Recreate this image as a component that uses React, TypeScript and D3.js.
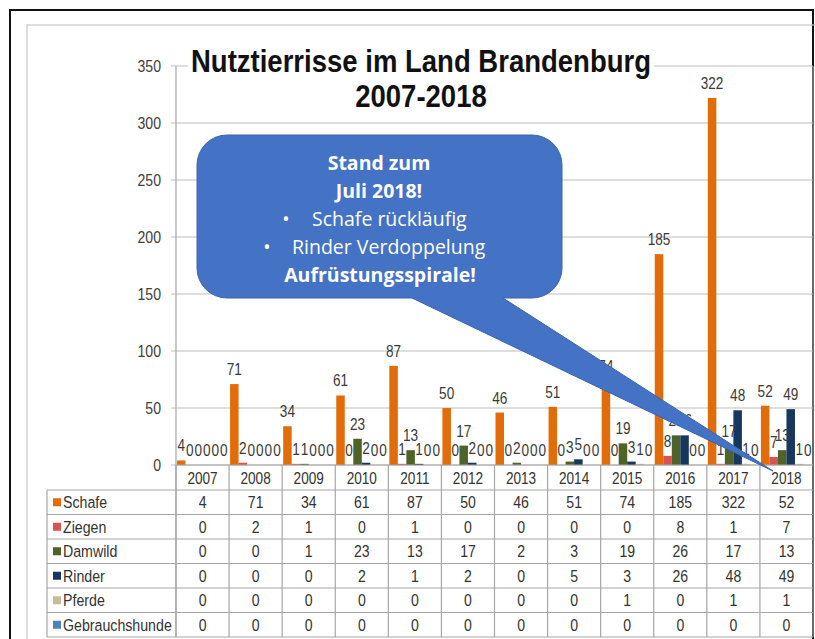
import React from "react";
import * as d3 from "d3";

const years = ["2007","2008","2009","2010","2011","2012","2013","2014","2015","2016","2017","2018"];
const seriesNames = ["Schafe","Ziegen","Damwild","Rinder","Pferde","Gebrauchshunde"];
const schafe = [4,71,34,61,87,50,46,51,74,185,322,52];
const ziegen = [0,2,1,0,1,0,0,0,0,8,1,7];
const damwild = [0,0,1,23,13,17,2,3,19,26,17,13];
const rinder = [0,0,0,2,1,2,0,5,3,26,48,49];
const pferde = [0,0,0,0,0,0,0,0,1,0,1,1];
const gebrauchshunde = [0,0,0,0,0,0,0,0,0,0,0,0];
const seriesValues = [schafe, ziegen, damwild, rinder, pferde, gebrauchshunde];
const seriesColors = ["#E36C0A","#D9534F","#4F6228","#17375E","#C4BD97","#4F81BD"];
const yTicks = [0,50,100,150,200,250,300,350];
const titleLines = ["Nutztierrisse im Land Brandenburg","2007-2018"];

const FONT = "'Liberation Sans', Arial, sans-serif";
const CFONT = "'Open Sans', 'Noto Sans', sans-serif";

function T({ x, y, sx = 0.85, children, ...rest }: any) {
  return (
    <text transform={`translate(${x},${y}) scale(${sx},1)`} fontFamily={FONT} {...rest}>
      {children}
    </text>
  );
}

export default function App() {
  const W = 815, H = 639;
  const left = 176, right = 813, top = 66, base = 465;
  const x0 = d3.scaleBand<string>().domain(years).range([left, right]).paddingInner(0).paddingOuter(0);
  const bw = x0.bandwidth();
  const x1 = d3.scaleBand<string>().domain(seriesNames).range([1, bw - 1]).paddingInner(0).paddingOuter(0);
  const y = d3.scaleLinear().domain([0, 350]).range([base, top]);

  const rowTop = 490, rowH = 24.5;
  const tableLeft = 47;

  const cx0 = 197, cx1 = 562, cy0 = 135, cy1 = 298, r = 30;
  const tailL = 412, tailR = 503, tipX = 773, tipY = 471;
  const calloutPath = `M${cx0 + r},${cy0} H${cx1 - r} A${r},${r} 0 0 1 ${cx1},${cy0 + r} V${cy1 - r} A${r},${r} 0 0 1 ${cx1 - r},${cy1} H${tailR} L${tipX},${tipY} L${tailL},${cy1} H${cx0 + r} A${r},${r} 0 0 1 ${cx0},${cy1 - r} V${cy0 + r} A${r},${r} 0 0 1 ${cx0 + r},${cy0} Z`;

  return (
    <svg width={W} height={H} style={{ position: "absolute", left: 0, top: 0, background: "#fff" }}>
      <rect x={10} y={10} width={803} height={H + 10} fill="none" stroke="#111" strokeWidth={2} />
      <rect x={27} y={25} width={W} height={H} fill="none" stroke="#c8c8c8" strokeWidth={1.2} />

      {yTicks.map((t) => (
        <line key={t} x1={left - 5} x2={right} y1={y(t)} y2={y(t)} stroke="#bdbdbd" strokeWidth={1.2} />
      ))}
      {yTicks.map((t) => (
        <T key={"l" + t} x={161} y={y(t) + 5.5} sx={0.88} fontSize={16} textAnchor="end" fill="#404040">{t}</T>
      ))}
      <line x1={left} x2={left} y1={top} y2={637} stroke="#a6a6a6" strokeWidth={1.2} />
      <line x1={right} x2={right} y1={top} y2={637} stroke="#a6a6a6" strokeWidth={1.2} />

      <rect x={188} y={42} width={466} height={30} fill="#fff" />
      <T x={421} y={72} sx={0.86} fontSize={32} fontWeight="bold" textAnchor="middle" fill="#111">{titleLines[0]}</T>
      <T x={421} y={107} sx={0.86} fontSize={32} fontWeight="bold" textAnchor="middle" fill="#111">{titleLines[1]}</T>

      {years.map((yr, i) => (
        <g key={yr} transform={`translate(${x0(yr)},0)`}>
          {seriesNames.map((s, j) => {
            const v = seriesValues[j][i];
            return (
              <rect key={s} x={x1(s)} y={y(v)} width={x1.bandwidth()} height={base - y(v)} fill={seriesColors[j]} />
            );
          })}
        </g>
      ))}
      {years.map((yr, i) => (
        <g key={"v" + yr}>
          {seriesNames.map((s, j) => {
            const v = seriesValues[j][i];
            const cx = (x0(yr) as number) + (x1(s) as number) + x1.bandwidth() / 2;
            return (
              <T key={s} x={cx} y={y(v) - 9} sx={0.85} fontSize={16} textAnchor="middle" fill="#3a3a3a">{v}</T>
            );
          })}
        </g>
      ))}

      <g stroke="#a6a6a6" strokeWidth={1.2}>
        <line x1={left} x2={right} y1={base} y2={base} />
        <line x1={tableLeft} x2={right} y1={rowTop} y2={rowTop} />
        {seriesNames.map((s, j) => (
          <line key={s} x1={tableLeft} x2={right} y1={rowTop + (j + 1) * rowH} y2={rowTop + (j + 1) * rowH} />
        ))}
        <line x1={tableLeft} x2={tableLeft} y1={rowTop} y2={rowTop + 6 * rowH} />
        {years.map((yr) => (
          <line key={yr} x1={x0(yr)} x2={x0(yr)} y1={base} y2={rowTop + 6 * rowH} />
        ))}
      </g>
      {years.map((yr) => (
        <T key={"h" + yr} x={(x0(yr) as number) + bw / 2} y={base + 18.5} sx={0.85} fontSize={16} textAnchor="middle" fill="#333">{yr}</T>
      ))}
      {seriesNames.map((s, j) => (
        <g key={"row" + s}>
          <rect x={53} y={rowTop + j * rowH + rowH / 2 - 4} width={8} height={8} fill={seriesColors[j]} />
          <T x={63} y={rowTop + j * rowH + rowH / 2 + 6} sx={0.86} fontSize={16.5} fill="#333">{s}</T>
          {years.map((yr, i) => (
            <T key={yr} x={(x0(yr) as number) + bw / 2} y={rowTop + j * rowH + rowH / 2 + 6} sx={0.88} fontSize={16} textAnchor="middle" fill="#333">
              {seriesValues[j][i]}
            </T>
          ))}
        </g>
      ))}

      <path d={calloutPath} fill="#4472C4" stroke="#3b64b0" strokeWidth={1} />
      <text x={379} y={170} fontFamily={CFONT} fontSize={19.5} fontWeight="bold" fill="#fff" textAnchor="middle">Stand zum</text>
      <text x={379} y={198} fontFamily={CFONT} fontSize={19.5} fontWeight="bold" fill="#fff" textAnchor="middle">Juli 2018!</text>
      <text x={286} y={226} fontFamily={CFONT} fontSize={19.5} fill="#fff" textAnchor="middle">•</text>
      <text x={312} y={226} fontFamily={CFONT} fontSize={19.5} fill="#fff">Schafe rückläufig</text>
      <text x={267} y={254} fontFamily={CFONT} fontSize={19.5} fill="#fff" textAnchor="middle">•</text>
      <text x={292} y={254} fontFamily={CFONT} fontSize={19.5} fill="#fff">Rinder Verdoppelung</text>
      <text x={380} y={282} fontFamily={CFONT} fontSize={19.5} fontWeight="bold" fill="#fff" textAnchor="middle">Aufrüstungsspirale!</text>
    </svg>
  );
}
